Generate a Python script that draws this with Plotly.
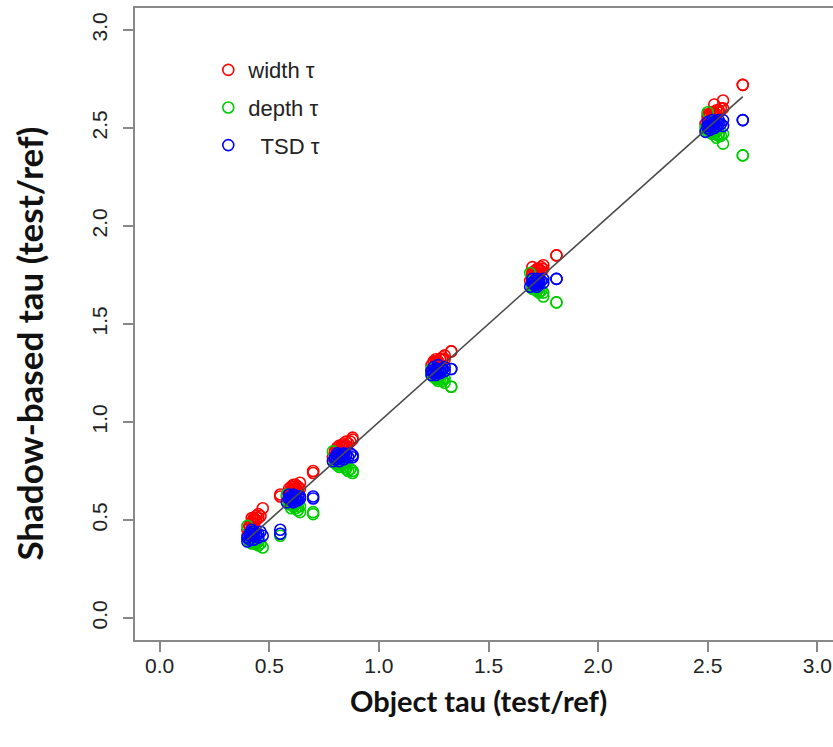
import plotly.graph_objects as go

# ---- data ----
obj_tau = [
    0.40, 0.40, 0.41, 0.41, 0.42, 0.42, 0.43, 0.43, 0.44, 0.45, 0.46, 0.47, 0.55, 0.55,
    0.41, 0.42, 0.43, 0.44, 0.42, 0.45,
    0.58, 0.59, 0.59, 0.60, 0.60, 0.61, 0.61, 0.62, 0.62, 0.63, 0.64, 0.64, 0.70, 0.70,
    0.60, 0.61, 0.62, 0.63, 0.59, 0.61,
    0.79, 0.80, 0.81, 0.81, 0.82, 0.82, 0.83, 0.84, 0.84, 0.85, 0.86, 0.87, 0.88, 0.88,
    0.80, 0.81, 0.83, 0.84, 0.82, 0.85,
    1.24, 1.24, 1.25, 1.25, 1.26, 1.26, 1.27, 1.27, 1.28, 1.29, 1.30, 1.30, 1.33, 1.33,
    1.25, 1.26, 1.27, 1.28, 1.26, 1.29,
    1.69, 1.70, 1.70, 1.71, 1.71, 1.72, 1.72, 1.73, 1.73, 1.74, 1.75, 1.75, 1.81, 1.81,
    1.70, 1.71, 1.72, 1.73, 1.71, 1.74,
    2.49, 2.50, 2.50, 2.51, 2.51, 2.52, 2.52, 2.53, 2.53, 2.54, 2.55, 2.56, 2.57, 2.57, 2.66, 2.66,
    2.50, 2.51, 2.52, 2.53, 2.54, 2.55,
]
width_tau = [
    0.42, 0.45, 0.44, 0.47, 0.46, 0.49, 0.48, 0.50, 0.52, 0.51, 0.52, 0.56, 0.63, 0.62,
    0.47, 0.48, 0.51, 0.50, 0.51, 0.53,
    0.62, 0.66, 0.64, 0.67, 0.63, 0.65, 0.68, 0.66, 0.64, 0.67, 0.69, 0.66, 0.75, 0.74,
    0.65, 0.67, 0.68, 0.65, 0.64, 0.66,
    0.82, 0.85, 0.84, 0.87, 0.86, 0.88, 0.87, 0.89, 0.88, 0.90, 0.89, 0.90, 0.92, 0.91,
    0.85, 0.86, 0.88, 0.87, 0.86, 0.88,
    1.26, 1.29, 1.28, 1.31, 1.30, 1.32, 1.29, 1.31, 1.32, 1.33, 1.32, 1.34, 1.36, 1.36,
    1.30, 1.31, 1.30, 1.32, 1.29, 1.32,
    1.72, 1.76, 1.79, 1.74, 1.77, 1.75, 1.78, 1.76, 1.77, 1.79, 1.80, 1.78, 1.85, 1.85,
    1.75, 1.76, 1.76, 1.78, 1.75, 1.77,
    2.52, 2.55, 2.57, 2.54, 2.56, 2.58, 2.55, 2.57, 2.62, 2.59, 2.58, 2.60, 2.64, 2.60, 2.72, 2.72,
    2.56, 2.57, 2.58, 2.56, 2.57, 2.59,
]
depth_tau = [
    0.41, 0.47, 0.39, 0.40, 0.38, 0.42, 0.40, 0.38, 0.39, 0.37, 0.38, 0.36, 0.42, 0.43,
    0.39, 0.40, 0.39, 0.38, 0.41, 0.39,
    0.63, 0.58, 0.60, 0.56, 0.59, 0.57, 0.61, 0.56, 0.58, 0.55, 0.54, 0.57, 0.53, 0.54,
    0.58, 0.57, 0.58, 0.57, 0.59, 0.58,
    0.85, 0.79, 0.80, 0.78, 0.79, 0.77, 0.78, 0.77, 0.79, 0.76, 0.75, 0.76, 0.74, 0.75,
    0.79, 0.78, 0.78, 0.79, 0.78, 0.77,
    1.27, 1.24, 1.23, 1.25, 1.22, 1.24, 1.21, 1.23, 1.22, 1.21, 1.20, 1.22, 1.18, 1.18,
    1.23, 1.23, 1.22, 1.24, 1.23, 1.22,
    1.76, 1.69, 1.72, 1.68, 1.70, 1.67, 1.69, 1.68, 1.66, 1.67, 1.64, 1.66, 1.61, 1.61,
    1.68, 1.68, 1.67, 1.69, 1.68, 1.67,
    2.50, 2.58, 2.49, 2.51, 2.48, 2.50, 2.47, 2.49, 2.48, 2.45, 2.47, 2.46, 2.47, 2.42, 2.36, 2.36,
    2.48, 2.49, 2.48, 2.47, 2.48, 2.46,
]
tsd_tau = [
    0.39, 0.41, 0.43, 0.40, 0.45, 0.42, 0.44, 0.40, 0.43, 0.41, 0.44, 0.42, 0.45, 0.43,
    0.42, 0.43, 0.42, 0.42, 0.44, 0.43,
    0.59, 0.61, 0.63, 0.60, 0.62, 0.59, 0.63, 0.61, 0.62, 0.60, 0.62, 0.61, 0.62, 0.61,
    0.61, 0.62, 0.60, 0.62, 0.61, 0.60,
    0.80, 0.82, 0.81, 0.84, 0.80, 0.83, 0.82, 0.84, 0.81, 0.83, 0.82, 0.84, 0.83, 0.82,
    0.81, 0.83, 0.82, 0.83, 0.82, 0.83,
    1.24, 1.26, 1.25, 1.28, 1.24, 1.27, 1.26, 1.29, 1.25, 1.27, 1.28, 1.26, 1.27, 1.27,
    1.26, 1.27, 1.27, 1.26, 1.25, 1.27,
    1.69, 1.71, 1.73, 1.70, 1.72, 1.69, 1.73, 1.71, 1.70, 1.72, 1.71, 1.73, 1.73, 1.73,
    1.71, 1.72, 1.71, 1.72, 1.70, 1.72,
    2.48, 2.50, 2.53, 2.51, 2.49, 2.54, 2.52, 2.50, 2.53, 2.51, 2.54, 2.52, 2.54, 2.51, 2.54, 2.54,
    2.51, 2.52, 2.51, 2.52, 2.53, 2.52,
]
series_names = ["width \u03c4", "depth \u03c4", "\u00a0\u00a0TSD \u03c4"]
series_colors = ["#FF0000", "#00CD00", "#0000FF"]
tick_vals = [0.0, 0.5, 1.0, 1.5, 2.0, 2.5, 3.0]
tick_text = ["0.0", "0.5", "1.0", "1.5", "2.0", "2.5", "3.0"]
x_title = "Object tau (test/ref)"
y_title = "Shadow-based tau (test/ref)"

fig = go.Figure()
for i, (name, ys, col) in enumerate(zip(series_names, [width_tau, depth_tau, tsd_tau], series_colors)):
    fig.add_trace(go.Scatter(
        x=obj_tau, y=ys, mode="markers", name=name, legendgroup=f"g{i}",
        marker=dict(symbol="circle-open", size=11, color=col, line=dict(width=1.6, color=col)),
    ))

lo, hi = min(obj_tau), max(obj_tau)
fig.add_trace(go.Scatter(x=[lo, hi], y=[lo, hi], mode="lines", showlegend=False,
                         line=dict(color="#4a4a4a", width=1.6), hoverinfo="skip"))

tick_font = dict(family="Liberation Sans, Arial, sans-serif", size=21, color="#222222")
axis_common = dict(
    showgrid=False, zeroline=False, showline=True, linecolor="#888888", linewidth=1.5,
    ticks="outside", ticklen=10, tickwidth=1.5, tickcolor="#888888",
    tickvals=tick_vals, ticktext=tick_text, tickfont=tick_font,
)
fig.update_xaxes(range=[-0.1127, 3.0716], mirror=True, ticklabelstandoff=-4, **axis_common)
fig.update_yaxes(range=[-0.1122, 3.112], mirror=False, tickangle=-90, ticklabelstandoff=8, **axis_common)

fig.add_annotation(x=1.455, xref="x", y=0, yref="paper", yshift=-60, yanchor="middle",
                   text=f"<b>{x_title}</b>", showarrow=False,
                   font=dict(family="Lato, Carlito, sans-serif", size=29, color="#111111"))
fig.add_annotation(x=0, xref="paper", xshift=-106, y=1.40, yref="y", xanchor="center",
                   text=f"<b>{y_title}</b>", showarrow=False, textangle=-90,
                   font=dict(family="Lato, Carlito, sans-serif", size=35, color="#111111"))

fig.update_layout(
    width=833, height=747,
    margin=dict(l=135, r=0, t=8, b=107),
    paper_bgcolor="white", plot_bgcolor="white",
    showlegend=True,
    legend=dict(x=0.105, y=0.935, xanchor="left", yanchor="top", bgcolor="rgba(0,0,0,0)",
                font=dict(family="Liberation Sans, Arial, sans-serif", size=22, color="#222222"),
                tracegroupgap=6, itemsizing="trace"),
)

fig.write_html("out.html")
